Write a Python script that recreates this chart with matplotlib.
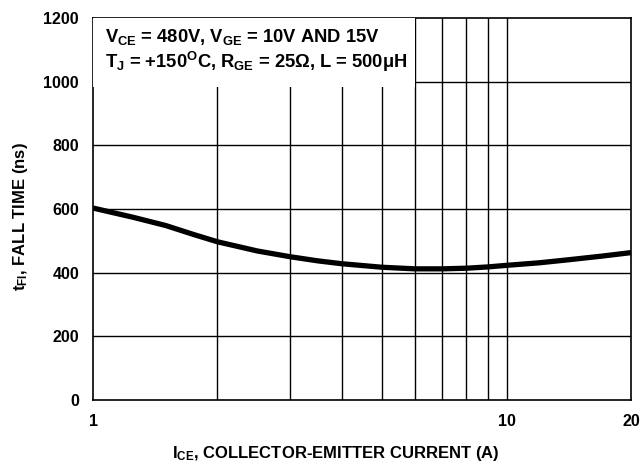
import matplotlib
matplotlib.use("Agg")
import matplotlib.pyplot as plt
from matplotlib.patches import Rectangle

plt.rcParams['font.family'] = ['Liberation Sans', 'DejaVu Sans']
plt.rcParams['font.weight'] = 'bold'
plt.rcParams['mathtext.fontset'] = 'custom'
plt.rcParams['mathtext.rm'] = 'Liberation Sans:bold'
plt.rcParams['mathtext.it'] = 'Liberation Sans:bold'
plt.rcParams['mathtext.bf'] = 'Liberation Sans:bold'

# curve
current = [1, 1.25, 1.5, 1.75, 2, 2.5, 3, 3.5, 4, 5, 6, 7, 8, 9, 10, 12, 14, 17, 20]
fall_time = [603, 574, 548, 520, 497, 468, 450, 437, 428, 417, 412, 412, 414, 418, 423, 431, 440, 452, 463]

x_ticks = [1, 10, 20]
y_ticks = [0, 200, 400, 600, 800, 1000, 1200]
x_grid = [2, 3, 4, 5, 6, 7, 8, 9, 10]

fig = plt.figure(figsize=(6.44, 4.65), dpi=100)
ax = fig.add_axes([93 / 644, 65 / 465, 538 / 644, 382 / 465])

ax.set_xscale('log')
ax.set_xlim(1, 20)
ax.set_ylim(0, 1200)

for g in x_grid:
    ax.axvline(g, color='black', lw=1, zorder=1)
for g in y_ticks[1:-1]:
    ax.axhline(g, color='black', lw=1, zorder=1)

ax.plot(current, fall_time, color='black', lw=3.8, solid_capstyle='butt',
        solid_joinstyle='round', zorder=3)

# white area behind the conditions text (no border)
ax.add_patch(Rectangle((0, 0.82), 0.598, 0.18, transform=ax.transAxes,
                       facecolor='white', edgecolor='none', zorder=4))
ax.text(0.022, 0.95, r'$\mathrm{V_{CE}}$ = 480V, $\mathrm{V_{GE}}$ = 10V AND 15V',
        transform=ax.transAxes, fontsize=13.2, fontweight='bold', va='center', zorder=5)
ax.text(0.022, 0.885, r'$\mathrm{T_J}$ = +150$^\mathrm{O}$C, $\mathrm{R_{GE}}$ = 25$\Omega$, L = 500$\mu$H',
        transform=ax.transAxes, fontsize=13.2, fontweight='bold', va='center', zorder=5)

ax.set_xticks(x_ticks)
ax.set_xticklabels([str(t) for t in x_ticks])
ax.xaxis.set_minor_locator(matplotlib.ticker.NullLocator())
ax.set_yticks(y_ticks)
ax.tick_params(length=0, labelsize=11.5, pad=10)
for lab in ax.get_xticklabels() + ax.get_yticklabels():
    lab.set_fontweight('bold')

ax.set_xlabel(r'$\mathrm{I_{CE}}$, COLLECTOR-EMITTER CURRENT (A)', fontsize=12, fontweight='bold')
ax.set_ylabel(r'$\mathrm{t_{FI}}$, FALL TIME (ns)', fontsize=12, fontweight='bold')
ax.xaxis.set_label_coords(0.452, -0.115)
ax.yaxis.set_label_coords(-0.118, 0.48)

for s in ax.spines.values():
    s.set_linewidth(1.2)

fig.savefig('out.png', dpi=100)
